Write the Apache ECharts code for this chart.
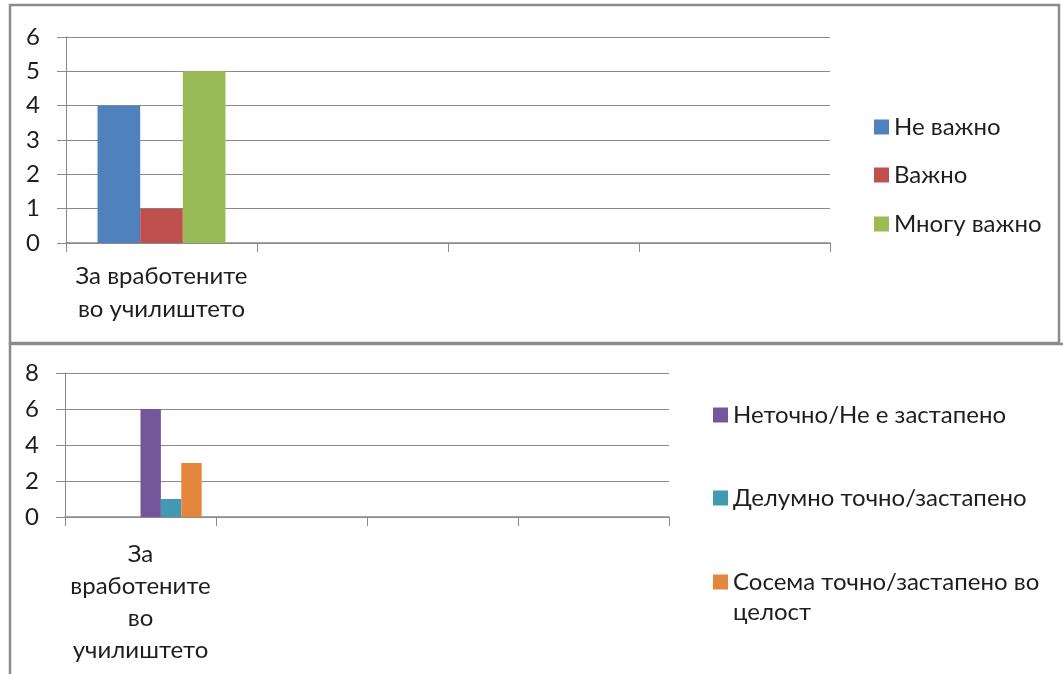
<!DOCTYPE html>
<html>
<head>
<meta charset="utf-8">
<script src="https://cdn.jsdelivr.net/npm/echarts@6/dist/echarts.min.js"></script>
<style>
html,body{margin:0;padding:0;background:#fff;}
#chart{width:1063px;height:674px;}
</style>
</head>
<body>
<div id="chart"></div>
<script>
// ---- data ----
const categories = ['За вработените во училиштето', '', '', ''];

const topNames = ['Не важно', 'Важно', 'Многу важно'];
const topNeVazhno = [4];
const topVazhno = [1];
const topMnoguVazhno = [5];

const bottomNames = ['Неточно/Не е застапено', 'Делумно точно/застапено', 'Сосема точно/застапено во целост'];
const bottomNetochno = [6];
const bottomDelumno = [1];
const bottomSosema = [3];

const topYMax = 6, topYInterval = 1;
const bottomYMax = 8, bottomYInterval = 2;

// ---- style ----
const FONT = 'Lato, "Noto Sans", sans-serif';
const FS = 24;
const TXT = '#1e1e1e';
const GRID = '#8a8a8a';
const topColors = ['#4F81BD', '#C0504D', '#9BBB59'];
const bottomColors = ['#73579A', '#4299B3', '#E6863C'];

const chart = echarts.init(document.getElementById('chart'), null, {renderer: 'canvas'});

function yAxis(gridIndex, max, interval) {
  return {
    type: 'value', gridIndex, min: 0, max, interval,
    axisLine: {show: true, lineStyle: {color: GRID, width: 1}},
    axisTick: {show: true, length: 9, lineStyle: {color: GRID}},
    axisLabel: {color: TXT, fontFamily: FONT, fontSize: FS, margin: 26},
    splitLine: {show: true, lineStyle: {color: GRID, width: 1}}
  };
}
function xAxis(gridIndex, fmt, margin, lh) {
  return {
    type: 'category', gridIndex, data: categories, boundaryGap: true,
    axisLine: {show: true, lineStyle: {color: GRID, width: 1.5}},
    axisTick: {show: true, length: 9, interval: 0, lineStyle: {color: GRID}},
    axisLabel: {interval: 0, color: TXT, fontFamily: FONT, fontSize: FS, margin, lineHeight: lh, formatter: fmt},
    splitLine: {show: false}
  };
}
// the wrapped legend entry gets a leading blank line so its first line sits beside the swatch
function legendItem(name, left, top) {
  return {
    data: [name], left, top, orient: 'vertical', itemWidth: 15, itemHeight: 15, padding: 0,
    icon: 'rect', selectedMode: false,
    formatter: n => n === 'Сосема точно/застапено во целост' ? '\nСосема точно/застапено во\nцелост' : n,
    textStyle: {color: TXT, fontFamily: FONT, fontSize: FS, lineHeight: 30}
  };
}

const option = {
  animation: false,
  backgroundColor: '#fff',
  graphic: [
    {type: 'rect', shape: {x: 10, y: 5, width: 1049, height: 338}, style: {fill: 'none', stroke: '#8c8c8c', lineWidth: 2.5}, silent: true},
    {type: 'rect', shape: {x: 10, y: 344, width: 1070, height: 360}, style: {fill: 'none', stroke: '#8c8c8c', lineWidth: 2.5}, silent: true}
  ],
  grid: [
    {left: 66, right: 233, top: 37, bottom: 431},
    {left: 65, right: 394, top: 373, bottom: 157}
  ],
  xAxis: [
    xAxis(0, v => v.replace(' во ', '\nво '), 17, 33),
    xAxis(1, v => v.split(' ').join('\n'), 21, 32)
  ],
  yAxis: [
    yAxis(0, topYMax, topYInterval),
    yAxis(1, bottomYMax, bottomYInterval)
  ],
  legend: [
    legendItem(topNames[0], 874, 112),
    legendItem(topNames[1], 874, 160),
    legendItem(topNames[2], 874, 209),
    legendItem(bottomNames[0], 713, 400),
    legendItem(bottomNames[1], 713, 483),
    legendItem(bottomNames[2], 713, 537)
  ],
  series: [
    {name: topNames[0], type: 'bar', xAxisIndex: 0, yAxisIndex: 0, data: topNeVazhno, itemStyle: {color: topColors[0]}, barGap: '0%', barCategoryGap: '33%'},
    {name: topNames[1], type: 'bar', xAxisIndex: 0, yAxisIndex: 0, data: topVazhno, itemStyle: {color: topColors[1]}, barGap: '0%', barCategoryGap: '33%'},
    {name: topNames[2], type: 'bar', xAxisIndex: 0, yAxisIndex: 0, data: topMnoguVazhno, itemStyle: {color: topColors[2]}, barGap: '0%', barCategoryGap: '33%'},
    // three empty series occupy the first slots of the cluster, as in the source chart
    {name: 'празно1', type: 'bar', xAxisIndex: 1, yAxisIndex: 1, data: [], barGap: '0%', barCategoryGap: '19%'},
    {name: 'празно2', type: 'bar', xAxisIndex: 1, yAxisIndex: 1, data: [], barGap: '0%', barCategoryGap: '19%'},
    {name: 'празно3', type: 'bar', xAxisIndex: 1, yAxisIndex: 1, data: [], barGap: '0%', barCategoryGap: '19%'},
    {name: bottomNames[0], type: 'bar', xAxisIndex: 1, yAxisIndex: 1, data: bottomNetochno, itemStyle: {color: bottomColors[0]}, barGap: '0%', barCategoryGap: '19%'},
    {name: bottomNames[1], type: 'bar', xAxisIndex: 1, yAxisIndex: 1, data: bottomDelumno, itemStyle: {color: bottomColors[1]}, barGap: '0%', barCategoryGap: '19%'},
    {name: bottomNames[2], type: 'bar', xAxisIndex: 1, yAxisIndex: 1, data: bottomSosema, itemStyle: {color: bottomColors[2]}, barGap: '0%', barCategoryGap: '19%'}
  ]
};
chart.setOption(option);
</script>
</body>
</html>
